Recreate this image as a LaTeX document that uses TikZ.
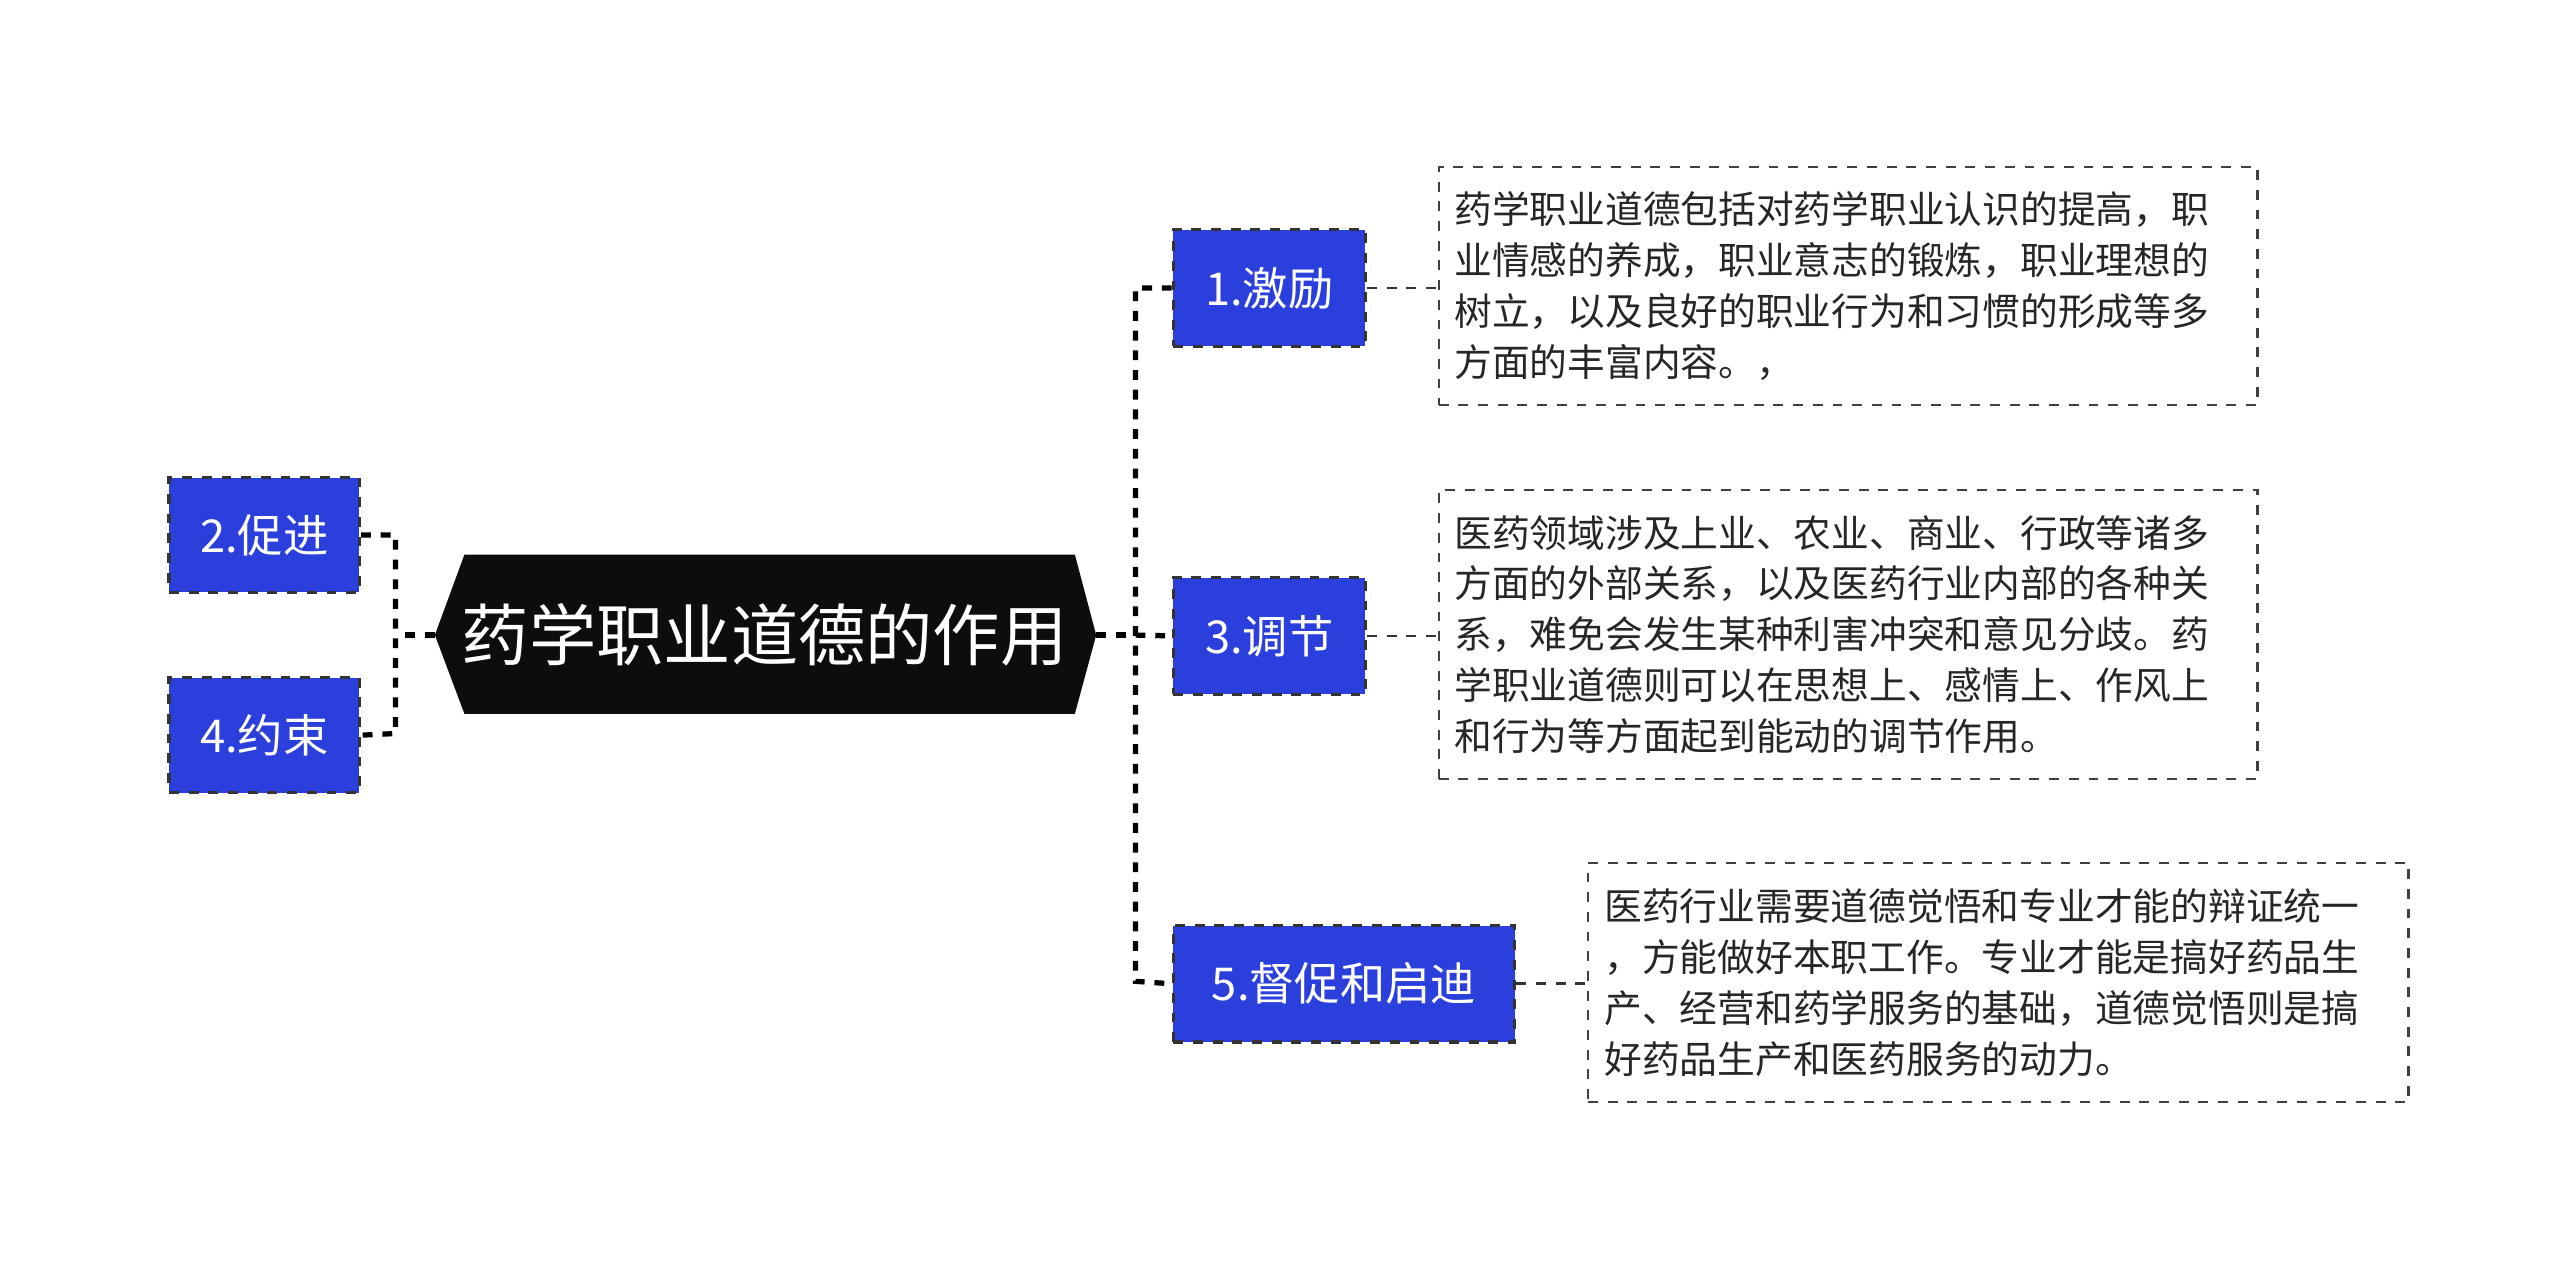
\documentclass[tikz,border=0pt]{standalone}
\usepackage{fontspec}
\setmainfont{Noto Sans CJK SC}
\tikzset{
 px/.style={x=0.5pt,y=-0.5pt},
 topic/.style={fill=blue1,draw=black!80,dashed,line width=1pt,text=white,font=\fontsize{13.8}{15}\selectfont,inner sep=0pt,anchor=north west},
 desc/.style={draw=black!75,dashed,line width=0.7pt,text=black!85,font=\fontsize{11.5}{15.5}\selectfont,align=left,inner sep=0pt,anchor=north west},
 trunk/.style={draw=black,dashed,line width=1.6pt},
 twig/.style={draw=black!80,dashed,line width=0.8pt}
}
\definecolor{blue1}{HTML}{2B3FDC}
\begin{document}
\begin{tikzpicture}[px]
\useasboundingbox (0,0) rectangle (1560,770);
% center
\fill[black!95] (265,387) -- (283,338) -- (655,338) -- (668,387) -- (655,435) -- (283,435) -- cycle;
\node[text=white,font=\fontsize{20.5}{22}\selectfont] (c) at (466,387) {药学职业道德的作用};
\coordinate (cl) at (265,387); \coordinate (cr) at (668,387);
% topics
\node[topic,minimum width=58pt,minimum height=35pt] (t2) at (102,290) {2.促进};
\node[topic,minimum width=58pt,minimum height=35pt] (t4) at (102,412) {4.约束};
\node[topic,minimum width=58.5pt,minimum height=35.5pt] (t1) at (714,139) {1.激励};
\node[topic,minimum width=58.5pt,minimum height=35.5pt] (t3) at (714,351) {3.调节};
\node[topic,minimum width=104pt,minimum height=35.5pt] (t5) at (714,563) {5.督促和启迪};
% descriptions
\node[desc,minimum width=249.5pt,minimum height=72.5pt,text width=240pt] (d1) at (876,101) {\hspace*{0pt}\hfill\parbox{240pt}{药学职业道德包括对药学职业认识的提高，职\\业情感的养成，职业意志的锻炼，职业理想的\\树立，以及良好的职业行为和习惯的形成等多\\方面的丰富内容。，}\hfill\hspace*{0pt}};
\node[desc,minimum width=249.5pt,minimum height=88pt,text width=240pt] (d3) at (876,298) {\hspace*{0pt}\hfill\parbox{240pt}{医药领域涉及上业、农业、商业、行政等诸多\\方面的外部关系，以及医药行业内部的各种关\\系，难免会发生某种利害冲突和意见分歧。药\\学职业道德则可以在思想上、感情上、作风上\\和行为等方面起到能动的调节作用。}\hfill\hspace*{0pt}};
\node[desc,minimum width=250pt,minimum height=73pt,text width=240pt] (d5) at (967,525) {\hspace*{0pt}\hfill\parbox{240pt}{医药行业需要道德觉悟和专业才能的辩证统一\\，方能做好本职工作。专业才能是搞好药品生\\产、经营和药学服务的基础，道德觉悟则是搞\\好药品生产和医药服务的动力。}\hfill\hspace*{0pt}};
% connectors
\draw[trunk] (cl) -- (241,387);
\draw[trunk] (t2.east) -| (241,447) -- (t4.east);
\draw[trunk] (cr) -- (692,387);
\draw[trunk] (t1.west) -| (692,598) -- (t5.west);
\draw[trunk] (692,387) -- (t3.west);
\draw[twig] (t1.east) -- (d1.west |- t1.east);
\draw[twig] (t3.east) -- (d3.west |- t3.east);
\draw[twig] (t5.east) -- (d5.west |- t5.east);
\end{tikzpicture}
\end{document}
